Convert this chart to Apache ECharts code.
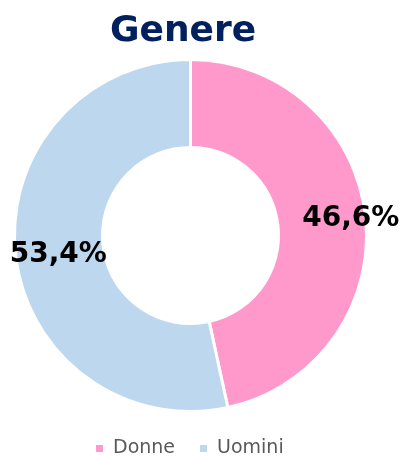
<!DOCTYPE html>
<html>
<head>
<meta charset="utf-8">
<script src="https://cdn.jsdelivr.net/npm/echarts@6/dist/echarts.min.js"></script>
<style>
  html, body { margin: 0; padding: 0; background: #fff; }
  #chart { width: 403px; height: 457px; }
</style>
</head>
<body>
<div id="chart"></div>
<script>
const categories = ['Donne', 'Uomini'];
const shares = [46.6, 53.4];
const colors = ['#FF99CC', '#BDD7EE'];

const chart = echarts.init(document.getElementById('chart'));

const labelOffsets = [[26, -2], [2, 5]];

const option = {
    animation: false,
    title: {
        text: 'Genere',
        left: 105,
        top: 9,
        textStyle: {
            fontFamily: 'DejaVu Sans',
            fontWeight: 'bold',
            fontSize: 36,
            color: '#002060'
        }
    },
    legend: {
        top: 439,
        left: 94,
        padding: 0,
        itemWidth: 9,
        itemHeight: 9,
        itemGap: 23,
        icon: 'rect',
        textStyle: {
            fontFamily: 'DejaVu Sans',
            fontSize: 19,
            color: '#595959',
            padding: [0, 0, 0, 4]
        },
        data: categories
    },
    series: [
        {
            type: 'pie',
            center: [190.5, 235.5],
            radius: [88, 176],
            startAngle: 90,
            clockwise: true,
            itemStyle: {
                borderColor: '#fff',
                borderWidth: 3
            },
            label: {
                show: true,
                position: 'inside',
                fontFamily: 'DejaVu Sans',
                fontWeight: 'bold',
                fontSize: 28,
                color: '#000',
                formatter: p => p.value.toFixed(1).replace('.', ',') + '%'
            },
            labelLine: { show: false },
            data: categories.map((name, i) => ({
                name: name,
                value: shares[i],
                itemStyle: { color: colors[i] },
                label: { offset: labelOffsets[i] }
            }))
        }
    ]
};

chart.setOption(option);
</script>
</body>
</html>
